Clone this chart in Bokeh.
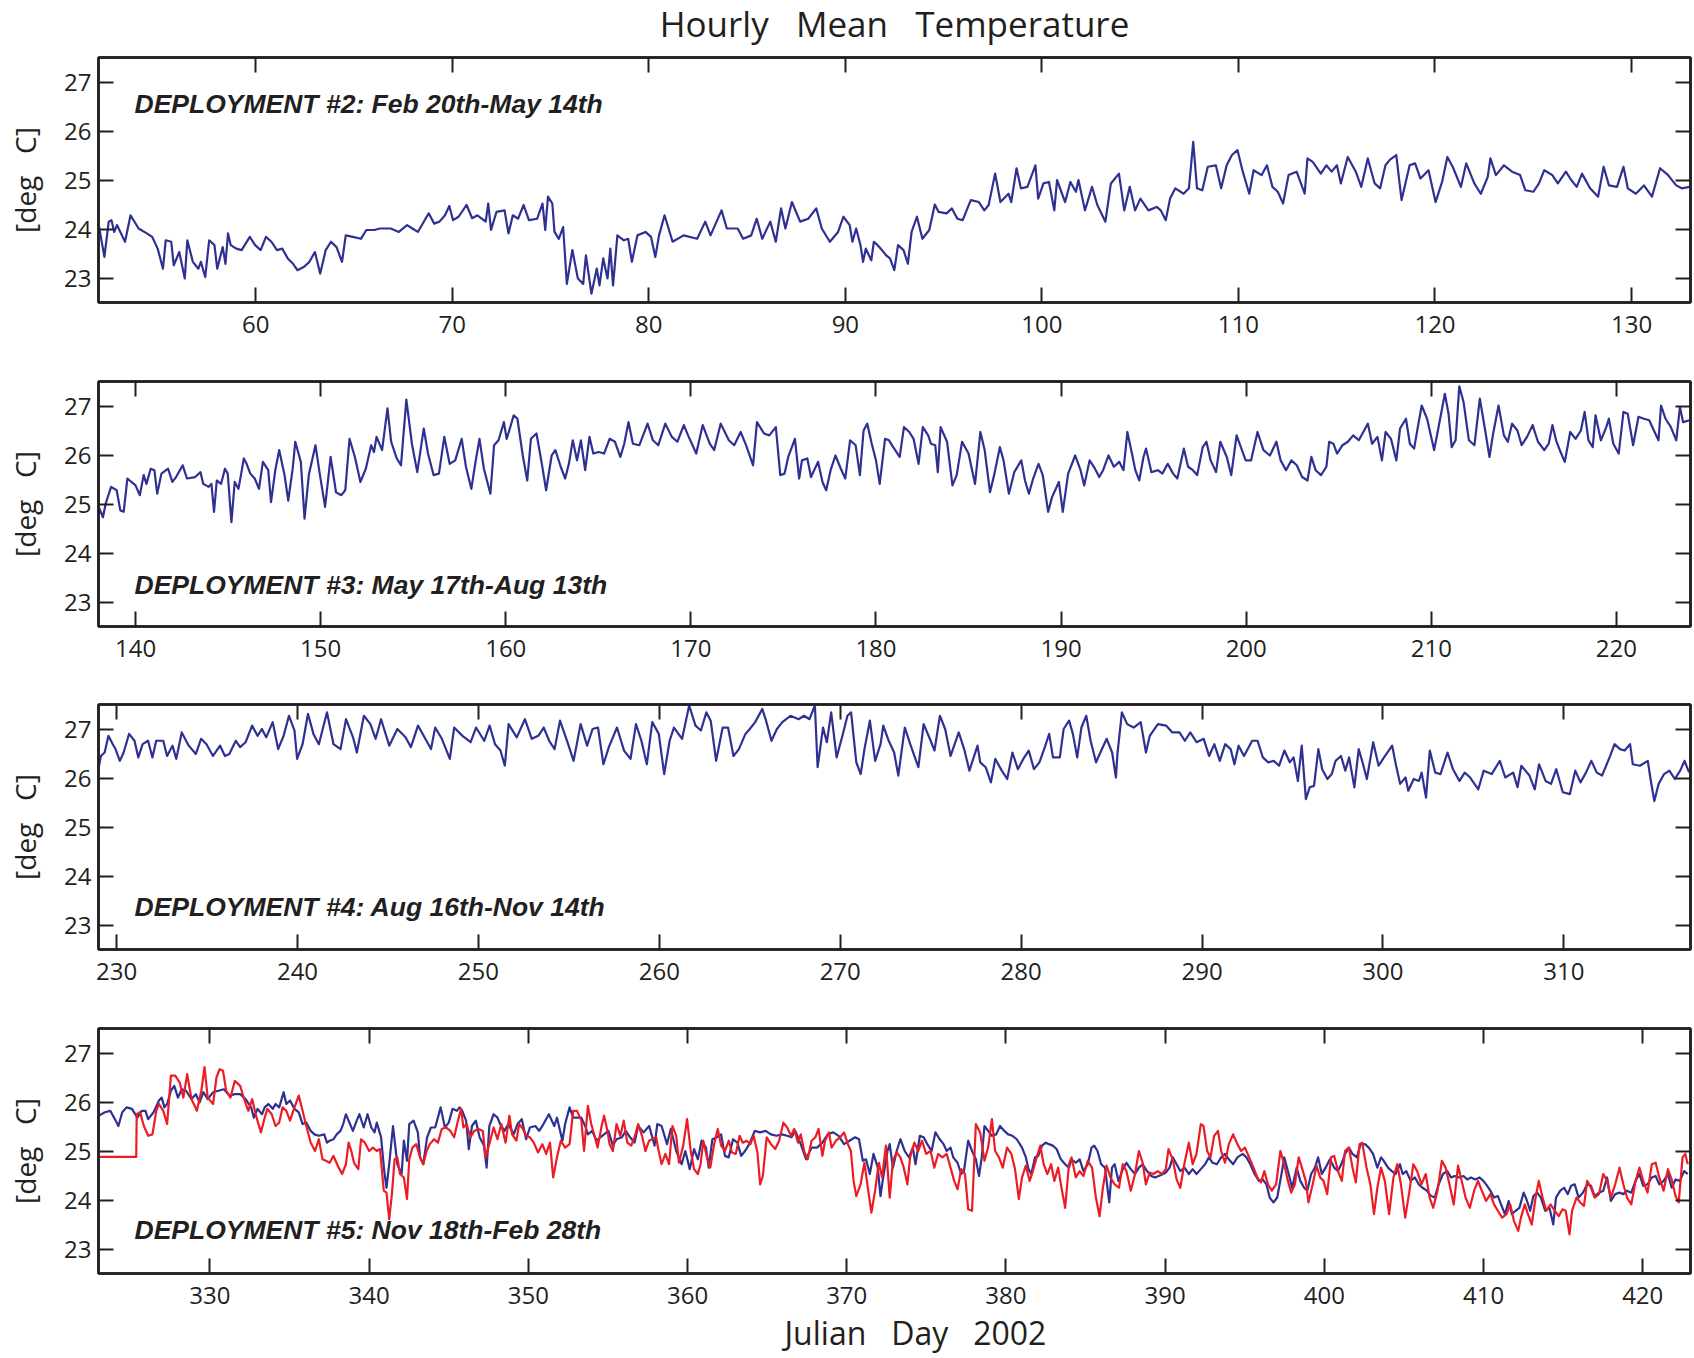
from bokeh.plotting import figure
from bokeh.layouts import column
from bokeh.models import Range1d, LinearAxis, FixedTicker, Label, Title
from bokeh.embed import file_html
from bokeh.resources import INLINE

BLUE = "#2E3192"
RED = "#ED1C24"
INK = "#231F20"
TICK_FONT = "Open Sans"
LABEL_FONT = "Liberation Sans"

NB = "\u00a0"
title_text = "Hourly" + NB * 3 + "Mean" + NB * 3 + "Temperature"
y_label_text = "[deg" + NB * 3 + "C]"
x_label_text = "Julian" + NB * 3 + "Day" + NB * 3 + "2002"

y_ticks = [23, 24, 25, 26, 27]
y_limits = (22.5, 27.5)

# ---------------- Deployment #2 ----------------
d2_label = "DEPLOYMENT #2: Feb 20th-May 14th"
d2_xlim = (52, 133)
d2_ticks = [60, 70, 80, 90, 100, 110, 120, 130]
d2_day = [
    52.0, 52.30, 52.52, 52.66, 52.80, 52.94, 53.35, 53.63, 54.04, 54.46,
    54.73, 55.01, 55.28, 55.42, 55.70, 55.83, 56.11, 56.39, 56.52, 56.80,
    57.08, 57.21, 57.43, 57.63, 57.90, 58.04, 58.32, 58.46, 58.59, 58.73,
    59.01, 59.28, 59.70, 59.97, 60.25, 60.52, 60.80, 61.08, 61.35, 61.63,
    61.90, 62.12, 62.46, 62.73, 63.01, 63.28, 63.56, 63.83, 64.11, 64.39,
    64.58, 64.94, 65.35, 65.63, 66.04, 66.32, 66.87, 67.28, 67.70, 67.97,
    68.25, 68.80, 69.08, 69.35, 69.63, 69.85, 70.04, 70.32, 70.73, 71.01,
    71.28, 71.70, 71.83, 71.97, 72.25, 72.66, 72.86, 73.08, 73.35, 73.63,
    73.90, 74.32, 74.59, 74.73, 74.87, 75.09, 75.20, 75.42, 75.64, 75.83,
    76.11, 76.39, 76.66, 76.80, 77.08, 77.35, 77.49, 77.68, 77.90, 78.04,
    78.18, 78.40, 78.73, 78.95, 79.14, 79.42, 79.83, 80.11, 80.33, 80.52,
    80.80, 81.21, 81.77, 82.46, 82.87, 83.14, 83.70, 83.97, 84.52, 84.80,
    85.21, 85.49, 85.77, 86.18, 86.46, 86.73, 86.95, 87.28, 87.70, 88.11,
    88.52, 88.80, 89.21, 89.63, 89.90,
    90.22, 90.36, 90.55, 90.77, 90.90, 91.04, 91.32, 91.45, 91.64, 91.86,
    92.08, 92.27, 92.49, 92.68, 92.96, 93.18, 93.37, 93.64, 93.92, 94.27,
    94.55, 94.74, 95.15, 95.42, 95.70, 95.97, 96.38, 96.79, 97.07, 97.29,
    97.62, 97.89, 98.30, 98.44, 98.71, 98.93, 99.26, 99.67, 99.81, 100.08,
    100.36, 100.63, 100.77, 101.18, 101.45, 101.73, 101.86, 102.19, 102.55, 102.82,
    103.23, 103.51, 103.92, 104.19, 104.47, 104.74, 105.01, 105.42, 105.84, 106.05,
    106.30, 106.52, 106.79, 107.21, 107.48, 107.70, 107.89, 108.16, 108.44, 108.85,
    109.12, 109.40, 109.67, 109.95, 110.22, 110.55, 110.77, 111.18, 111.45, 111.73,
    112.00, 112.27, 112.55, 112.96, 113.37, 113.51, 113.78, 114.19, 114.47, 114.74,
    115.01, 115.21, 115.56, 115.97, 116.25, 116.58, 116.93, 117.21, 117.48, 117.70,
    118.03, 118.30, 118.71, 118.99, 119.26, 119.67, 120.03, 120.36, 120.63, 120.90,
    121.32, 121.59, 122.00, 122.33, 122.68, 122.82, 123.10, 123.51, 123.92, 124.33,
    124.60, 125.01, 125.29, 125.56, 125.97, 126.25, 126.66, 126.93, 127.21, 127.48,
    127.89, 128.30, 128.58, 128.85, 129.26, 129.59, 129.81, 130.22, 130.63, 131.04,
    131.45, 131.86, 132.27, 132.55, 132.96,
]
d2_temp = [
    24.11, 23.43, 24.15, 24.18, 23.94, 24.08, 23.74, 24.28, 24.01, 23.91,
    23.84, 23.60, 23.19, 23.77, 23.74, 23.26, 23.53, 22.99, 23.77, 23.33,
    23.19, 23.33, 23.02, 23.77, 23.67, 23.19, 23.63, 23.29, 23.91, 23.67,
    23.60, 23.57, 23.84, 23.67, 23.57, 23.84, 23.74, 23.57, 23.60, 23.40,
    23.29, 23.16, 23.23, 23.33, 23.53, 23.09, 23.57, 23.74, 23.63, 23.33,
    23.87, 23.84, 23.80, 23.98, 23.98, 24.01, 24.01, 23.94, 24.08, 24.01,
    23.94, 24.32, 24.11, 24.15, 24.28, 24.47, 24.18, 24.25, 24.49, 24.22,
    24.28, 24.15, 24.52, 23.98, 24.35, 24.38, 23.91, 24.28, 24.21, 24.49,
    24.18, 24.21, 24.52, 23.98, 24.66, 24.52, 23.94, 23.80, 24.04, 22.88,
    23.57, 22.99, 22.88, 23.46, 22.68, 23.19, 22.85, 23.40, 22.99, 23.60,
    22.85, 23.87, 23.77, 23.80, 23.33, 23.87, 23.94, 23.84, 23.43, 23.87,
    24.28, 23.74, 23.87, 23.80, 24.15, 23.87, 24.38, 24.01, 24.01, 23.80,
    23.87, 24.21, 23.80, 24.15, 23.74, 24.42, 24.01, 24.55, 24.15, 24.21,
    24.42, 24.01, 23.74, 23.94, 24.25,
    24.08, 23.74, 24.01, 23.67, 23.33, 23.60, 23.36, 23.74, 23.67, 23.57,
    23.46, 23.40, 23.16, 23.67, 23.57, 23.29, 23.94, 24.25, 23.80, 23.98,
    24.50, 24.35, 24.32, 24.42, 24.21, 24.18, 24.59, 24.55, 24.38, 24.49,
    25.13, 24.55, 24.72, 24.55, 25.24, 24.83, 24.86, 25.30, 24.62, 24.93,
    24.96, 24.38, 25.00, 24.55, 24.96, 24.76, 25.00, 24.38, 24.86, 24.49,
    24.15, 24.93, 25.13, 24.38, 24.86, 24.38, 24.62, 24.38, 24.45, 24.38,
    24.18, 24.62, 24.83, 24.72, 24.83, 25.78, 24.83, 24.79, 25.27, 25.30,
    24.83, 25.30, 25.51, 25.61, 25.17, 24.72, 25.20, 25.10, 25.30, 24.86,
    24.76, 24.52, 25.10, 25.17, 24.72, 25.44, 25.37, 25.13, 25.30, 25.17,
    25.30, 24.93, 25.47, 25.17, 24.86, 25.44, 24.93, 24.83, 25.30, 25.41,
    25.51, 24.59, 25.30, 25.34, 25.03, 25.20, 24.55, 24.96, 25.47, 25.27,
    24.86, 25.34, 24.93, 24.72, 25.06, 25.44, 25.10, 25.30, 25.17, 25.10,
    24.79, 24.76, 24.93, 25.20, 25.10, 24.93, 25.17, 25.00, 24.86, 25.13,
    24.83, 24.66, 25.27, 24.89, 24.86, 25.27, 24.83, 24.72, 24.89, 24.66,
    25.24, 25.10, 24.89, 24.83, 24.86,
]

# ---------------- Deployment #3 ----------------
d3_label = "DEPLOYMENT #3: May 17th-Aug 13th"
d3_xlim = (138, 224)
d3_ticks = [140, 150, 160, 170, 180, 190, 200, 210, 220]
d3_day = [
    137.98, 138.24, 138.39, 138.68, 138.98, 139.18, 139.36, 139.56, 140.0, 140.23,
    140.44, 140.59, 140.82, 141.02, 141.17, 141.40, 141.76, 141.99, 142.19, 142.55,
    142.78, 143.22, 143.51, 143.66, 143.95, 144.10, 144.24, 144.39, 144.62, 144.83,
    144.98, 145.18, 145.36, 145.56, 145.71, 145.85, 146.0, 146.20, 146.44, 146.67,
    146.88, 147.17, 147.32, 147.55, 147.76, 148.05, 148.25, 148.49, 148.63, 148.93,
    149.13, 149.36, 149.72, 149.95, 150.24, 150.54, 150.83, 151.12, 151.33, 151.56,
    151.85, 152.15, 152.44, 152.73, 152.88, 153.02, 153.32, 153.61, 153.81, 154.11,
    154.34, 154.63, 154.93, 155.22, 155.57, 155.80, 156.10, 156.39, 156.68, 156.97,
    157.27, 157.62, 157.85, 158.14, 158.38, 158.58, 158.82, 159.17, 159.37, 159.61,
    159.90, 160.05, 160.19, 160.43, 160.63, 160.92, 161.16, 161.36, 161.66, 161.95,
    162.18, 162.48, 162.68, 162.97, 163.21, 163.41, 163.62, 163.85, 164.06, 164.29,
    164.52, 164.73, 165.02, 165.31, 165.61, 165.90, 166.19, 166.40, 166.63, 166.87,
    167.22, 167.66, 167.95, 168.24, 168.62, 168.97, 169.27, 169.62, 169.85, 170.29,
    170.64, 171.02, 171.26, 171.61, 172.05, 172.34, 172.69, 172.98, 173.36, 173.57,
    173.95, 174.24, 174.59, 174.83, 175.06, 175.26, 175.62, 175.85, 176.0, 176.29,
    176.49, 176.87, 177.11, 177.31, 177.55, 177.81, 178.10, 178.34,
    178.60, 178.90, 179.13, 179.33, 179.53, 179.77, 180.0, 180.20, 180.49, 180.70,
    180.93, 181.28, 181.51, 181.80, 182.03, 182.30, 182.53, 182.82, 182.97, 183.20,
    183.34, 183.49, 183.84, 184.13, 184.36, 184.65, 185.0, 185.35, 185.64, 185.87,
    186.16, 186.40, 186.69, 186.89, 187.18, 187.47, 187.85, 188.05, 188.26, 188.49,
    188.78, 189.01, 189.30, 189.51, 189.88, 190.09, 190.38, 190.76, 191.05, 191.25,
    191.54, 191.83, 192.06, 192.27, 192.56, 192.85, 193.14, 193.37, 193.58, 193.81,
    194.01, 194.22, 194.45, 194.59, 194.88, 195.23, 195.47, 195.76, 196.05, 196.28,
    196.63, 196.86, 197.12, 197.35, 197.65, 197.85, 198.08, 198.37, 198.60, 198.95,
    199.19, 199.48, 199.77, 199.97, 200.26, 200.61, 200.93, 201.28, 201.63, 201.86,
    202.15, 202.44, 202.73, 203.02, 203.31, 203.52, 203.75, 204.04, 204.33, 204.48,
    204.71, 204.91, 205.20, 205.49, 205.78, 206.08, 206.37, 206.57, 206.80, 207.09,
    207.33, 207.53, 207.82, 208.11, 208.31, 208.63, 208.84, 209.07, 209.27, 209.48,
    209.77, 210.15, 210.44, 210.73, 210.93, 211.10, 211.31, 211.51, 211.74, 212.03,
    212.33, 212.62, 212.91, 213.14, 213.34, 213.63, 213.92, 214.13, 214.36, 214.65,
    214.88, 215.17, 215.47, 215.76, 216.10, 216.34, 216.54, 216.74, 216.98, 217.21,
    217.50, 217.79, 218.08, 218.28, 218.49, 218.72, 218.87, 219.16, 219.45, 219.59,
    219.83, 220.12, 220.38, 220.61, 220.90, 221.19, 221.48, 221.77, 222.06, 222.27,
    222.41, 222.65, 222.94, 223.23, 223.43, 223.60, 223.95,
]
d3_temp = [
    24.97, 24.73, 25.01, 25.35, 25.28, 24.87, 24.84, 25.52, 25.38, 25.18,
    25.59, 25.41, 25.72, 25.69, 25.21, 25.62, 25.72, 25.45, 25.55, 25.79,
    25.52, 25.55, 25.65, 25.41, 25.35, 25.41, 24.84, 25.48, 25.41, 25.72,
    25.62, 24.63, 25.45, 25.31, 25.62, 25.93, 25.82, 25.62, 25.52, 25.31,
    25.86, 25.69, 25.04, 25.69, 26.10, 25.59, 25.07, 25.72, 26.27, 25.86,
    24.70, 25.59, 26.20, 25.62, 24.94, 25.96, 25.24, 25.18, 25.28, 26.33,
    25.96, 25.45, 25.72, 26.20, 26.06, 26.37, 26.10, 26.95, 26.27, 25.93,
    25.79, 27.13, 26.23, 25.65, 26.54, 26.03, 25.59, 25.62, 26.37, 25.82,
    25.89, 26.33, 25.76, 25.31, 25.89, 26.33, 25.72, 25.21, 26.20, 26.30,
    26.67, 26.33, 26.50, 26.81, 26.74, 25.99, 25.48, 26.33, 26.44, 25.82,
    25.28, 25.99, 26.10, 25.76, 25.52, 25.82, 26.30, 25.89, 26.30, 25.69,
    26.37, 26.03, 26.06, 26.03, 26.33, 26.27, 25.96, 26.23, 26.67, 26.23,
    26.20, 26.64, 26.30, 26.20, 26.64, 26.37, 26.27, 26.61, 26.40, 26.03,
    26.61, 26.23, 26.10, 26.64, 26.30, 26.20, 26.47, 26.20, 25.79, 26.67,
    26.44, 26.40, 26.57, 25.59, 25.62, 25.96, 26.33, 25.52, 25.89, 25.93,
    25.55, 25.86, 25.45, 25.28, 25.69, 25.99, 25.72, 25.52,
    26.30, 26.20, 25.59, 26.50, 26.64, 26.23, 25.89, 25.41, 26.33, 26.30,
    26.16, 25.96, 26.57, 26.47, 26.33, 25.82, 26.57, 26.40, 26.23, 26.20,
    25.65, 26.57, 26.27, 25.38, 25.59, 26.27, 26.03, 25.41, 26.47, 26.10,
    25.24, 25.62, 26.16, 25.89, 25.21, 25.65, 25.89, 25.48, 25.21, 25.52,
    25.82, 25.59, 24.84, 25.14, 25.45, 24.84, 25.62, 25.99, 25.69, 25.38,
    25.89, 25.72, 25.55, 25.69, 25.99, 25.76, 25.86, 25.69, 26.47, 26.06,
    25.69, 25.48, 25.96, 26.13, 25.65, 25.69, 25.62, 25.82, 25.62, 25.52,
    26.13, 25.76, 25.69, 25.59, 26.16, 26.27, 25.89, 25.65, 26.27, 25.96,
    25.59, 26.40, 26.10, 25.89, 25.89, 26.47, 26.10, 25.99, 26.27, 25.89,
    25.69, 25.89, 25.79, 25.55, 25.48, 25.96, 25.69, 25.59, 25.76, 26.27,
    26.23, 26.03, 26.20, 26.27, 26.40, 26.30, 26.50, 26.64, 26.23, 26.37,
    25.89, 26.47, 26.33, 25.89, 26.54, 26.74, 26.23, 26.13, 26.57, 27.01,
    26.74, 26.10, 26.67, 27.25, 26.84, 26.16, 26.30, 27.40, 27.08, 26.30,
    26.20, 27.15, 26.50, 25.96, 26.44, 27.01, 26.40, 26.27, 26.64, 26.50,
    26.20, 26.37, 26.61, 26.27, 26.10, 26.23, 26.61, 26.30, 26.06, 25.86,
    26.47, 26.33, 26.50, 26.88, 26.30, 26.16, 26.81, 26.30, 26.57, 26.74,
    26.23, 26.03, 26.88, 26.84, 26.20, 26.78, 26.74, 26.71, 26.47, 26.30,
    27.01, 26.74, 26.57, 26.30, 26.98, 26.67, 26.71,
]

# ---------------- Deployment #4 ----------------
d4_label = "DEPLOYMENT #4: Aug 16th-Nov 14th"
d4_xlim = (229, 317)
d4_ticks = [230, 240, 250, 260, 270, 280, 290, 300, 310]
d4_day = [
    228.98, 229.13, 229.34, 229.55, 229.79, 229.94, 230.18, 230.39, 230.69, 230.99,
    231.20, 231.44, 231.74, 231.98, 232.19, 232.58, 232.79, 233.09, 233.30, 233.60,
    233.99, 234.38, 234.67, 234.97, 235.33, 235.72, 235.99, 236.23, 236.59, 236.83,
    237.13, 237.49, 237.79, 238.03, 238.27, 238.63, 238.93, 239.23, 239.53, 239.83,
    239.98, 240.28, 240.58, 240.88, 241.18, 241.63, 241.99, 242.38, 242.68, 243.07,
    243.28, 243.67, 244.03, 244.32, 244.62, 245.07, 245.52, 245.97, 246.27, 246.66,
    247.02, 247.38, 247.61, 247.98, 248.42, 248.66, 249.12, 249.57, 249.87, 250.32,
    250.62, 250.92, 251.22, 251.46, 251.67, 252.12, 252.57, 252.95, 253.31, 253.61,
    253.91, 254.21, 254.51, 254.96, 255.26, 255.65, 256.01, 256.31, 256.61, 256.91,
    257.21, 257.66, 258.05, 258.41, 258.71, 259.01, 259.31, 259.61, 259.97, 260.27,
    260.57, 260.81, 261.26, 261.65, 262.0, 262.30, 262.60, 262.84, 263.14, 263.50,
    263.80, 264.10, 264.40, 264.76, 265.0, 265.30, 265.69, 265.90, 266.20, 266.50,
    266.80, 267.25, 267.70, 268.0, 268.30, 268.60, 268.75, 269.05, 269.26, 269.50,
    269.80, 270.10, 270.40,
    270.60, 270.89, 271.13, 271.34, 271.64, 271.93, 272.23, 272.38, 272.68, 272.98,
    273.21, 273.57, 273.87, 274.32, 274.61, 275.0, 275.21, 275.51, 275.80, 276.10,
    276.55, 276.85, 277.14, 277.59, 277.74, 278.04, 278.33, 278.57, 278.93, 279.23,
    279.52, 279.82, 280.12, 280.42, 280.71, 281.01, 281.31, 281.55, 281.76, 282.14,
    282.35, 282.65, 282.86, 283.10, 283.33, 283.60, 283.84, 284.14, 284.43, 284.73,
    285.03, 285.24, 285.33, 285.57, 285.86, 286.22, 286.61, 286.90, 287.11, 287.56,
    288.01, 288.36, 288.75, 289.05, 289.35, 289.70, 290.09, 290.39, 290.68, 290.98,
    291.28, 291.58, 291.79, 292.02, 292.32, 292.77, 293.07, 293.36, 293.66, 293.96,
    294.26, 294.55, 294.85, 295.06, 295.30, 295.51, 295.74, 295.95, 296.19, 296.43,
    296.64, 296.93, 297.17, 297.38, 297.68, 297.92, 298.13, 298.42, 298.66, 298.87,
    299.11, 299.46, 299.76, 300.06, 300.51, 300.71, 300.95, 301.25, 301.40, 301.70,
    301.99, 302.14, 302.38, 302.59, 302.89, 303.18, 303.57, 303.87, 304.23, 304.52,
    304.82, 305.27, 305.57, 306.01, 306.46, 306.76, 307.20, 307.44, 307.65, 308.10,
    308.39, 308.63, 308.99, 309.29, 309.58, 309.94, 310.33, 310.63, 310.92, 311.22,
    311.52, 311.82, 312.11, 312.56, 312.80, 313.10, 313.36, 313.66, 313.81, 314.20,
    314.64, 314.79, 315.0, 315.24, 315.54, 315.83, 316.13, 316.43, 316.67, 316.88,
    317.02,
]
d4_temp = [
    26.15, 26.45, 26.52, 26.86, 26.69, 26.59, 26.35, 26.52, 26.90, 26.76,
    26.42, 26.69, 26.76, 26.42, 26.76, 26.76, 26.45, 26.66, 26.39, 26.93,
    26.66, 26.49, 26.80, 26.69, 26.45, 26.66, 26.45, 26.49, 26.76, 26.63,
    26.73, 27.07, 26.86, 27.0, 26.83, 27.14, 26.59, 26.86, 27.27, 26.97,
    26.39, 26.69, 27.31, 26.90, 26.69, 27.34, 26.69, 26.59, 27.20, 26.83,
    26.52, 27.27, 27.10, 26.80, 27.20, 26.66, 27.0, 26.83, 26.63, 27.07,
    26.83, 26.59, 27.03, 26.80, 26.39, 27.03, 26.86, 26.73, 27.03, 26.76,
    27.07, 26.69, 26.56, 26.25, 27.10, 26.83, 27.20, 26.80, 26.86, 27.03,
    26.76, 26.59, 27.17, 26.69, 26.35, 27.10, 26.66, 27.0, 27.03, 26.28,
    26.63, 27.03, 26.56, 26.39, 27.10, 26.76, 26.28, 27.14, 26.90, 26.08,
    26.76, 27.03, 26.80, 27.48, 27.07, 26.97, 27.34, 27.17, 26.35, 27.03,
    27.03, 26.45, 26.59, 26.90, 27.0, 27.14, 27.41, 27.17, 26.76, 27.0,
    27.14, 27.27, 27.20, 27.27, 27.20, 27.48, 26.22, 27.03, 26.73, 27.34,
    26.42, 26.83, 27.27,
    27.34, 26.32, 26.08, 26.59, 27.17, 26.35, 26.69, 27.07, 26.76, 26.52,
    26.05, 27.03, 26.69, 26.22, 27.10, 26.76, 26.56, 27.27, 27.0, 26.45,
    26.93, 26.59, 26.15, 26.66, 26.32, 26.22, 25.91, 26.39, 26.15, 25.98,
    26.52, 26.18, 26.39, 26.56, 26.18, 26.32, 26.63, 26.90, 26.42, 26.42,
    27.0, 27.17, 26.90, 26.42, 27.03, 27.27, 26.76, 26.32, 26.56, 26.80,
    26.52, 26.01, 26.52, 27.34, 27.10, 27.03, 27.14, 26.52, 26.86, 27.10,
    27.07, 26.93, 26.93, 26.76, 26.93, 26.73, 26.80, 26.45, 26.69, 26.35,
    26.69, 26.59, 26.28, 26.66, 26.45, 26.76, 26.76, 26.42, 26.32, 26.35,
    26.25, 26.56, 26.32, 26.42, 25.94, 26.66, 25.57, 25.81, 25.84, 26.59,
    26.18, 25.98, 26.08, 26.35, 26.45, 26.15, 26.42, 25.81, 26.59, 26.32,
    25.98, 26.73, 26.25, 26.42, 26.66, 26.28, 25.88, 26.01, 25.74, 25.98,
    25.94, 26.11, 25.60, 26.56, 26.11, 26.08, 26.52, 26.18, 25.94, 26.11,
    26.01, 25.77, 26.15, 26.08, 26.35, 26.01, 26.11, 25.81, 26.25, 26.05,
    25.77, 26.28, 25.94, 25.88, 26.18, 25.71, 25.67, 26.15, 25.91, 26.11,
    26.35, 26.11, 26.05, 26.45, 26.69, 26.59, 26.56, 26.69, 26.28, 26.25,
    26.35, 25.98, 25.53, 25.88, 26.08, 26.15, 25.98, 26.15, 26.35, 26.15,
    26.08,
]

# ---------------- Deployment #5 ----------------
d5_label = "DEPLOYMENT #5: Nov 18th-Feb 28th"
d5_xlim = (323, 423)
d5_ticks = [330, 340, 350, 360, 370, 380, 390, 400, 410, 420]
d5_blue_day = [
    323.0, 323.40, 323.74, 324.08, 324.25, 324.49, 324.76, 325.10, 325.44, 325.71,
    325.95, 326.12, 326.46, 326.80, 326.97, 327.14, 327.31, 327.55, 327.76, 327.99,
    328.23, 328.50, 328.84, 329.12, 329.35, 329.59, 329.86, 330.20, 330.54, 330.88,
    331.22, 331.56, 331.90, 332.24, 332.59, 332.76, 332.99, 333.27, 333.44, 333.67,
    333.95, 334.12, 334.35, 334.63, 334.80, 335.03, 335.31, 335.58, 335.82, 336.05,
    336.33, 336.56, 336.84, 337.18, 337.35, 337.52, 337.76, 337.96, 338.20, 338.37,
    338.54, 338.71, 338.98, 339.22, 339.39, 339.66, 339.90, 340.14, 340.34, 340.48,
    340.75, 340.95, 341.09, 341.26, 341.50, 341.77, 342.04, 342.18, 342.38, 342.52,
    342.79, 343.06, 343.20, 343.40, 343.64, 343.88, 344.15, 344.49, 344.76, 345.0,
    345.24, 345.51, 345.68, 345.85, 346.09, 346.26, 346.46, 346.70, 346.94, 347.21,
    347.38, 347.55, 347.82, 348.06, 348.23, 348.50, 348.74, 349.08, 349.32, 349.59,
    349.86, 350.10, 350.44, 350.68, 350.95, 351.29, 351.63, 351.80, 352.14, 352.31,
    352.59, 352.82, 353.06, 353.33, 353.61, 353.74, 354.01, 354.29, 354.52, 354.76,
    355.03, 355.31, 355.54, 355.88, 356.12, 356.39, 356.67, 356.90, 357.24, 357.59,
    357.93, 358.10, 358.37, 358.71, 358.95, 359.29, 359.63, 359.86, 360.14, 360.41,
    360.65, 360.88, 361.16, 361.33, 361.56, 361.84, 362.11, 362.35, 362.59, 362.86,
    363.13, 363.37, 363.61, 363.88, 364.22, 364.56, 364.90, 365.24, 365.58, 365.92,
    366.26, 366.53, 366.77, 367.11, 367.45, 367.79, 368.13, 368.47, 368.81, 369.15,
    369.49, 369.83, 370.17,
    370.53, 370.77, 371.01, 371.21, 371.45, 371.68, 371.95, 372.12, 372.29, 372.56,
    372.70, 372.90, 373.14, 373.37, 373.64, 373.91, 374.15, 374.32, 374.59, 374.83,
    375.06, 375.33, 375.57, 375.84, 376.08, 376.28, 376.52, 376.69, 376.96, 377.19,
    377.36, 377.63, 377.87, 378.11, 378.31, 378.48, 378.65, 378.88, 379.12, 379.39,
    379.63, 379.90, 380.14, 380.41, 380.68, 381.01, 381.25, 381.42, 381.59, 381.83,
    382.03, 382.27, 382.50, 382.70, 382.94, 383.18, 383.45, 383.72, 383.96, 384.12,
    384.39, 384.63, 384.87, 385.14, 385.38, 385.54, 385.75, 385.98, 386.22, 386.49,
    386.66, 386.83, 387.07, 387.34, 387.57, 387.84, 388.11, 388.35, 388.59, 388.86,
    389.13, 389.36, 389.60, 389.87, 390.04, 390.28, 390.48, 390.72, 390.95, 391.22,
    391.49, 391.73, 391.97, 392.24, 392.51, 392.75, 392.98, 393.25, 393.52, 393.76,
    394.00, 394.27, 394.54, 394.87, 395.11, 395.35, 395.62, 395.89, 396.13, 396.36,
    396.57, 396.80, 397.04, 397.31, 397.48, 397.71, 397.98, 398.26, 398.49, 398.73,
    398.93, 399.17, 399.41, 399.61, 399.84, 400.08, 400.35, 400.62, 400.86, 401.10,
    401.30, 401.54, 401.77, 402.04, 402.28, 402.55, 402.79, 403.06, 403.33, 403.56,
    403.73, 404.00, 404.24, 404.48, 404.75, 404.92, 405.15, 405.42, 405.69, 405.93,
    406.17, 406.44, 406.71, 406.94, 407.18, 407.45, 407.72, 407.96, 408.19, 408.46,
    408.74, 408.97, 409.21, 409.48, 409.75, 409.99, 410.16, 410.43, 410.66, 410.90,
    411.10, 411.34, 411.58, 411.78, 412.01, 412.25, 412.52, 412.69, 412.93, 413.13,
    413.37, 413.60, 413.87, 414.14, 414.38, 414.55, 414.82, 415.06, 415.29, 415.50,
    415.73, 415.97, 416.24, 416.51, 416.75, 416.98, 417.25, 417.52, 417.76, 418.00,
    418.27, 418.54, 418.78, 419.01, 419.28, 419.55, 419.79, 420.03, 420.30, 420.57,
    420.81, 421.04, 421.31, 421.58, 421.82, 422.06, 422.33, 422.60, 422.83,
]
d5_blue_temp = [
    25.72, 25.79, 25.82, 25.62, 25.51, 25.79, 25.89, 25.86, 25.68, 25.82,
    25.82, 25.65, 25.79, 26.03, 26.09, 25.89, 25.96, 26.23, 26.33, 26.09,
    26.26, 26.23, 26.06, 26.16, 25.99, 26.20, 26.06, 26.20, 26.23, 26.26,
    26.13, 26.16, 26.16, 26.06, 25.89, 25.68, 25.86, 25.75, 25.89, 25.96,
    25.86, 25.96, 25.89, 26.20, 25.96, 26.03, 25.86, 25.79, 25.55, 25.58,
    25.41, 25.34, 25.31, 25.34, 25.17, 25.21, 25.24, 25.34, 25.41, 25.55,
    25.75, 25.62, 25.41, 25.62, 25.75, 25.48, 25.75, 25.48, 25.38, 25.58,
    25.28, 24.59, 24.25, 24.73, 25.51, 24.73, 24.53, 25.21, 24.80, 25.55,
    25.62, 25.38, 24.87, 24.73, 25.28, 25.48, 25.48, 25.89, 25.48, 25.58,
    25.86, 25.82, 25.89, 25.82, 25.62, 25.04, 25.51, 25.62, 25.28, 25.11,
    24.66, 25.51, 25.75, 25.68, 25.55, 25.41, 25.55, 25.34, 25.55, 25.65,
    25.24, 25.48, 25.51, 25.41, 25.55, 25.75, 25.51, 25.68, 25.21, 25.55,
    25.89, 25.68, 25.68, 25.68, 25.48, 25.34, 25.41, 25.21, 25.28, 25.34,
    25.41, 25.11, 25.24, 25.28, 25.41, 25.28, 25.17, 25.51, 25.38, 25.51,
    25.11, 25.55, 25.51, 25.14, 25.45, 25.00, 24.73, 25.00, 24.63, 25.04,
    24.83, 25.21, 25.07, 24.66, 25.24, 25.28, 25.34, 24.90, 24.87, 25.24,
    25.17, 24.90, 25.00, 25.14, 25.41, 25.38, 25.41, 25.34, 25.31, 25.34,
    25.31, 25.28, 25.41, 25.14, 24.83, 25.07, 25.07, 25.17, 25.34, 25.38,
    25.31, 25.14, 25.21,
    25.28, 25.24, 24.80, 24.83, 24.53, 24.94, 24.66, 24.08, 24.46, 25.00,
    25.14, 24.66, 25.00, 25.24, 25.00, 24.87, 25.07, 24.73, 25.31, 25.28,
    25.14, 25.00, 25.38, 25.24, 25.14, 25.00, 25.07, 24.87, 24.76, 24.53,
    24.59, 25.21, 25.00, 24.83, 24.49, 24.87, 25.51, 25.41, 25.31, 25.34,
    25.51, 25.41, 25.34, 25.31, 25.24, 25.07, 24.87, 24.63, 24.53, 24.87,
    24.90, 25.11, 25.17, 25.14, 25.11, 25.04, 24.83, 24.73, 24.66, 24.83,
    24.76, 24.83, 24.59, 24.73, 25.07, 25.11, 25.00, 24.73, 24.66, 23.95,
    24.66, 24.73, 24.39, 24.63, 24.76, 24.63, 24.53, 24.66, 24.73, 24.59,
    24.49, 24.46, 24.49, 24.53, 24.56, 24.66, 24.87, 24.73, 24.59, 24.66,
    24.53, 24.63, 24.53, 24.63, 24.73, 24.87, 24.76, 24.73, 24.87, 24.94,
    24.83, 24.73, 24.87, 24.94, 24.87, 24.73, 24.53, 24.39, 24.42, 24.32,
    24.05, 23.95, 24.05, 24.53, 24.87, 24.59, 24.25, 24.66, 24.39, 24.25,
    24.19, 24.53, 24.66, 24.87, 24.53, 24.66, 24.83, 24.66, 24.59, 24.76,
    24.94, 25.07, 24.94, 24.87, 25.14, 25.14, 25.07, 24.94, 24.66, 24.87,
    24.80, 24.66, 24.59, 24.53, 24.73, 24.53, 24.59, 24.39, 24.46, 24.32,
    24.25, 24.19, 24.08, 24.05, 24.32, 24.53, 24.59, 24.46, 24.49, 24.46,
    24.49, 24.42, 24.46, 24.42, 24.46, 24.39, 24.32, 24.19, 24.05, 24.08,
    23.91, 23.71, 23.98, 23.71, 23.78, 23.84, 24.15, 24.02, 23.78, 24.08,
    24.15, 24.05, 23.78, 23.84, 23.50, 24.05, 24.19, 24.25, 24.12, 24.29,
    24.32, 24.05, 24.15, 24.32, 24.29, 24.08, 24.15, 24.19, 24.46, 23.98,
    24.12, 24.15, 24.12, 24.19, 24.15, 24.39, 24.53, 24.29, 24.32, 24.46,
    24.49, 24.32, 24.39, 24.53, 24.25, 24.42, 24.39, 24.59, 24.53,
]
d5_red_day = [
    323.0, 325.37, 325.40, 325.61, 325.85, 326.12, 326.39, 326.63, 326.80, 327.07,
    327.31, 327.55, 327.82, 328.10, 328.33, 328.57, 328.84, 329.18, 329.46, 329.66,
    329.86, 330.20, 330.41, 330.61, 330.82, 331.02, 331.29, 331.56, 331.90, 332.18,
    332.41, 332.65, 332.93, 333.20, 333.44, 333.61, 333.88, 334.12, 334.35, 334.56,
    334.80, 335.03, 335.31, 335.58, 335.82, 336.05, 336.33, 336.60, 336.84, 337.07,
    337.28, 337.52, 337.76, 338.03, 338.30, 338.54, 338.71, 338.88, 339.05, 339.32,
    339.49, 339.73, 340.0, 340.24, 340.48, 340.68, 340.92, 341.09, 341.26, 341.43,
    341.60, 341.77, 341.94, 342.18, 342.38, 342.52, 342.72, 342.96, 343.20, 343.40,
    343.61, 343.81, 344.08, 344.32, 344.56, 344.83, 345.10, 345.34, 345.58, 345.78,
    345.92, 346.12, 346.36, 346.60, 346.87, 347.14, 347.31, 347.55, 347.82, 348.06,
    348.30, 348.57, 348.81, 348.98, 349.25, 349.42, 349.66, 349.86, 350.10, 350.34,
    350.61, 350.88, 351.12, 351.36, 351.56, 351.80, 352.04, 352.31, 352.59, 352.82,
    353.06, 353.33, 353.50, 353.74, 353.95, 354.18, 354.35, 354.63, 354.76, 354.97,
    355.10, 355.31, 355.54, 355.78, 355.99, 356.22, 356.46, 356.67, 356.90, 357.14,
    357.35, 357.59, 357.76, 358.03, 358.16, 358.37, 358.61, 358.84, 359.05, 359.29,
    359.46, 359.73, 359.97, 360.20, 360.41, 360.65, 360.82, 360.99, 361.22, 361.43,
    361.67, 361.90, 362.11, 362.35, 362.59, 362.79, 363.03, 363.27, 363.47, 363.71,
    363.95, 364.15, 364.39, 364.56, 364.73, 364.97, 365.24, 365.51, 365.75, 366.02,
    366.26, 366.50, 366.70, 366.94, 367.11, 367.35, 367.55, 367.79, 368.03, 368.23,
    368.47, 368.64, 368.88, 369.05, 369.32, 369.59, 369.83, 370.07,
    370.26, 370.43, 370.60, 370.87, 371.11, 371.35, 371.55, 371.78, 372.02, 372.22,
    372.46, 372.70, 372.90, 373.14, 373.37, 373.58, 373.81, 373.98, 374.25, 374.49,
    374.73, 374.99, 375.27, 375.50, 375.74, 376.01, 376.28, 376.52, 376.75, 376.96,
    377.19, 377.43, 377.63, 377.87, 378.11, 378.38, 378.65, 378.88, 379.12, 379.32,
    379.56, 379.80, 380.07, 380.34, 380.57, 380.81, 381.01, 381.25, 381.49, 381.69,
    381.93, 382.16, 382.37, 382.60, 382.84, 383.04, 383.28, 383.52, 383.72, 383.96,
    384.12, 384.39, 384.63, 384.87, 385.14, 385.41, 385.65, 385.88, 386.09, 386.32,
    386.56, 386.83, 387.10, 387.34, 387.57, 387.84, 388.11, 388.35, 388.59, 388.79,
    389.03, 389.26, 389.53, 389.80, 390.04, 390.21, 390.48, 390.72, 390.95, 391.22,
    391.49, 391.73, 391.97, 392.24, 392.41, 392.64, 392.85, 393.08, 393.32, 393.52,
    393.76, 394.00, 394.27, 394.54, 394.77, 395.01, 395.28, 395.55, 395.79, 396.02,
    396.23, 396.46, 396.70, 396.97, 397.24, 397.48, 397.71, 397.92, 398.15, 398.39,
    398.59, 398.83, 399.00, 399.27, 399.51, 399.74, 399.95, 400.18, 400.42, 400.62,
    400.86, 401.10, 401.30, 401.54, 401.77, 401.98, 402.21, 402.38, 402.65, 402.89,
    403.12, 403.33, 403.56, 403.80, 404.07, 404.34, 404.58, 404.81, 405.08, 405.35,
    405.59, 405.83, 406.10, 406.37, 406.61, 406.84, 407.11, 407.38, 407.62, 407.86,
    408.13, 408.40, 408.63, 408.87, 409.14, 409.41, 409.65, 409.89, 410.16, 410.43,
    410.66, 410.90, 411.17, 411.44, 411.68, 411.91, 412.18, 412.35, 412.59, 412.79,
    413.03, 413.27, 413.47, 413.71, 413.94, 414.21, 414.48, 414.72, 414.96, 415.16,
    415.40, 415.56, 415.84, 416.07, 416.31, 416.51, 416.75, 416.98, 417.25, 417.52,
    417.76, 418.00, 418.27, 418.54, 418.78, 419.01, 419.28, 419.55, 419.79, 420.03,
    420.30, 420.57, 420.81, 421.04, 421.31, 421.58, 421.82, 422.06, 422.26, 422.50,
    422.67, 422.83,
]
d5_red_temp = [
    24.88, 24.88, 25.75, 25.79, 25.51, 25.31, 25.34, 25.82, 25.96, 25.82,
    25.55, 26.54, 26.54, 26.40, 26.09, 26.57, 26.06, 25.82, 26.23, 26.71,
    26.09, 25.96, 26.50, 26.67, 26.64, 26.23, 26.09, 26.43, 26.33, 26.03,
    25.82, 26.06, 25.68, 25.38, 25.68, 25.86, 25.75, 25.51, 25.58, 25.89,
    25.82, 25.62, 25.89, 26.13, 25.82, 25.51, 25.17, 25.00, 25.24, 24.83,
    24.80, 24.76, 24.90, 24.70, 24.53, 24.73, 25.17, 25.00, 24.76, 24.63,
    25.24, 25.17, 25.00, 25.07, 25.00, 25.04, 24.19, 24.15, 23.61, 24.12,
    24.83, 24.87, 24.53, 24.46, 24.02, 24.83, 25.07, 25.14, 24.87, 24.73,
    25.00, 25.14, 25.24, 25.17, 25.45, 25.48, 25.41, 25.28, 25.62, 25.86,
    25.48, 25.55, 25.28, 25.41, 25.45, 25.41, 24.87, 25.14, 25.48, 25.24,
    25.55, 25.17, 25.72, 25.34, 25.21, 25.55, 25.45, 25.31, 25.28, 25.17,
    24.97, 25.14, 24.94, 25.17, 24.46, 24.87, 25.21, 25.07, 25.14, 25.82,
    25.82, 25.62, 25.00, 25.92, 25.55, 25.28, 25.07, 25.55, 25.72, 25.41,
    25.14, 25.00, 25.55, 25.31, 25.62, 25.17, 25.11, 25.28, 25.55, 25.31,
    25.00, 25.21, 25.24, 25.28, 25.04, 24.73, 24.94, 24.73, 25.51, 25.31,
    24.76, 25.11, 25.65, 25.00, 24.63, 24.53, 24.73, 25.21, 24.87, 24.66,
    25.14, 25.45, 25.11, 25.00, 25.21, 24.97, 24.94, 25.31, 25.17, 25.21,
    25.14, 25.31, 24.97, 24.32, 24.49, 25.28, 25.14, 25.04, 25.21, 25.58,
    25.48, 25.31, 25.45, 25.17, 25.34, 24.97, 24.83, 25.21, 25.28, 25.45,
    24.90, 25.21, 25.38, 25.07, 25.21, 25.28, 25.38, 25.14,
    25.00, 24.39, 24.08, 24.32, 24.76, 24.19, 23.74, 24.19, 24.76, 24.46,
    25.11, 24.05, 24.80, 24.97, 24.87, 24.66, 24.32, 24.87, 25.17, 25.00,
    25.21, 24.94, 25.00, 24.66, 24.94, 24.87, 24.94, 24.66, 24.39, 24.22,
    24.63, 24.53, 23.81, 23.78, 25.55, 25.38, 24.80, 25.07, 25.65, 25.00,
    24.87, 24.66, 25.07, 24.94, 24.63, 24.02, 24.46, 24.70, 24.39, 24.59,
    24.87, 25.11, 24.73, 24.53, 24.73, 24.39, 24.66, 24.19, 23.84, 24.73,
    24.87, 24.46, 24.59, 24.49, 24.80, 24.66, 24.05, 23.67, 24.25, 24.70,
    24.46, 24.32, 24.25, 24.73, 24.59, 24.19, 24.53, 25.00, 24.76, 24.32,
    24.56, 24.53, 24.59, 24.53, 24.63, 25.04, 24.83, 24.42, 24.25, 24.76,
    25.17, 24.73, 24.94, 25.55, 25.51, 25.00, 24.87, 25.31, 25.41, 25.00,
    24.76, 25.14, 25.34, 25.14, 25.00, 25.07, 24.87, 24.66, 24.46, 24.36,
    24.59, 24.32, 24.19, 24.32, 25.00, 24.73, 24.39, 24.15, 24.32, 24.87,
    24.66, 24.39, 23.95, 24.32, 24.70, 24.46, 24.39, 24.12, 24.87, 24.90,
    24.59, 24.39, 25.00, 25.07, 24.66, 24.36, 25.14, 25.17, 24.66, 24.32,
    23.71, 24.25, 24.66, 24.39, 23.71, 24.46, 24.73, 24.32, 23.64, 24.19,
    24.73, 24.59, 24.32, 24.53, 24.05, 23.84, 24.19, 24.80, 24.66, 24.32,
    23.91, 24.70, 24.39, 24.05, 23.84, 24.19, 24.39, 24.19, 23.98, 24.12,
    23.91, 23.78, 23.64, 23.71, 23.91, 23.57, 23.37, 23.64, 23.91, 23.71,
    23.50, 24.05, 24.39, 24.05, 23.78, 23.91, 23.78, 23.67, 23.81, 23.78,
    23.30, 23.78, 24.05, 23.95, 23.88, 24.39, 24.25, 24.05, 24.12, 24.53,
    24.39, 24.05, 24.32, 24.66, 24.32, 24.05, 23.91, 24.39, 24.66, 24.39,
    24.15, 24.73, 24.76, 24.46, 24.19, 24.63, 24.42, 24.08, 23.95, 24.87,
    24.94, 24.73,
]

for a, b in [(d2_day, d2_temp), (d3_day, d3_temp), (d4_day, d4_temp),
             (d5_blue_day, d5_blue_temp), (d5_red_day, d5_red_temp)]:
    assert len(a) == len(b), (len(a), len(b))

FIG_W = 1694
FRAME_H = 245
LEFT = 98
RIGHT = 4
FRAME_W = FIG_W - LEFT - RIGHT


def style_axis(ax, show_labels):
    ax.major_tick_in = 15
    ax.major_tick_out = 0
    ax.minor_tick_line_color = None
    ax.axis_line_color = INK
    ax.axis_line_width = 2.5
    ax.major_tick_line_color = INK
    ax.major_tick_line_width = 2
    ax.major_label_text_font = TICK_FONT
    if show_labels:
        ax.major_label_text_font_size = "24px"
        ax.major_label_text_color = INK
    else:
        ax.major_label_text_font_size = "1px"
        ax.major_label_text_color = None
        ax.major_label_standoff = 0


def make_panel(xlim, xticks, top, bottom, label, label_y, margin=None):
    extra = {} if margin is None else {"margin": margin}
    p = figure(width=FIG_W, height=top + FRAME_H + bottom,
               x_range=Range1d(*xlim), y_range=Range1d(*y_limits),
               output_backend="svg", toolbar_location=None,
               x_axis_location=None, y_axis_location=None,
               min_border_left=LEFT, min_border_right=RIGHT,
               min_border_top=top, min_border_bottom=bottom, **extra)
    p.xgrid.visible = False
    p.ygrid.visible = False
    p.outline_line_color = INK
    p.outline_line_width = 2.5
    p.background_fill_color = "white"
    p.border_fill_color = "white"

    bx = LinearAxis(ticker=FixedTicker(ticks=xticks))
    style_axis(bx, True)
    bx.major_label_standoff = 13
    p.add_layout(bx, "below")

    tx = LinearAxis(ticker=FixedTicker(ticks=xticks))
    style_axis(tx, False)
    p.add_layout(tx, "above")

    ly = LinearAxis(ticker=FixedTicker(ticks=y_ticks))
    style_axis(ly, True)
    ly.major_label_standoff = 7
    ly.axis_label = y_label_text
    ly.axis_label_text_font = TICK_FONT
    ly.axis_label_text_font_style = "normal"
    ly.axis_label_text_font_size = "28px"
    ly.axis_label_text_color = INK
    ly.axis_label_standoff = 17
    p.add_layout(ly, "left")

    ry = LinearAxis(ticker=FixedTicker(ticks=y_ticks))
    style_axis(ry, False)
    p.add_layout(ry, "right")

    span = xlim[1] - xlim[0]
    p.add_layout(Label(x=xlim[0] + span * 36.0 / FRAME_W, y=label_y, text=label,
                       text_font=LABEL_FONT, text_font_style="bold italic",
                       text_font_size="26.5px", text_color=INK,
                       text_align="left", text_baseline="middle"))
    return p


# first panel: taller top border, pulled up so its frame still starts 57px from the page top
p1 = make_panel(d2_xlim, d2_ticks, 74, 43, d2_label, 26.55, margin=(-17, 0, 0, 0))
p1.line(d2_day, d2_temp, line_color=BLUE, line_width=2.2, line_join="round")
p1.add_layout(Title(text=title_text, align="center",
                    text_font=TICK_FONT, text_font_size="35px", text_font_style="normal",
                    text_color=INK, standoff=22), "above")

p2 = make_panel(d3_xlim, d3_ticks, 36, 42, d3_label, 23.35)
p2.line(d3_day, d3_temp, line_color=BLUE, line_width=2.2, line_join="round")

p3 = make_panel(d4_xlim, d4_ticks, 36, 43, d4_label, 23.37)
p3.line(d4_day, d4_temp, line_color=BLUE, line_width=2.2, line_join="round")

p4 = make_panel(d5_xlim, d5_ticks, 36, 83, d5_label, 23.38)
p4.line(d5_blue_day, d5_blue_temp, line_color=BLUE, line_width=2.2, line_join="round")
p4.line(d5_red_day, d5_red_temp, line_color=RED, line_width=2.2, line_join="round")
p4.add_layout(Title(text=x_label_text, align="left", offset=686, text_font=TICK_FONT,
                    text_font_size="32px", text_font_style="normal",
                    text_color=INK, standoff=5), "below")

layout = column(p1, p2, p3, p4, spacing=0)
open("out.html", "w").write(file_html(layout, INLINE))
